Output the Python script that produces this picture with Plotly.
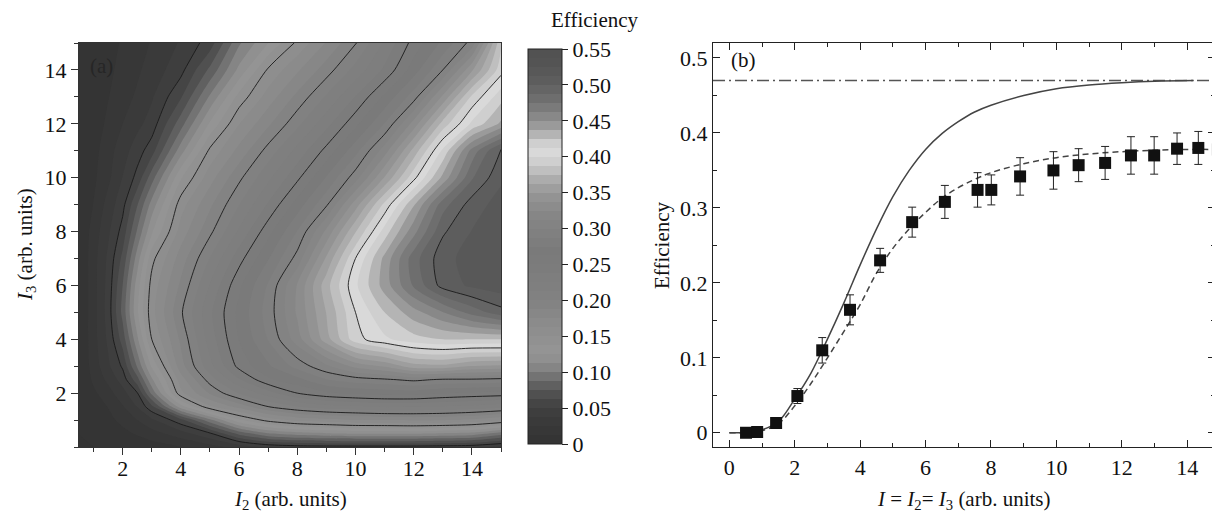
import plotly.graph_objects as go

# ---------------- Panel (a): efficiency map ----------------
i2_vals = [0.5, 1, 1.5, 2, 2.5, 3, 4, 5, 6, 7, 8, 9, 10, 11, 12, 13, 14, 15]
i3_vals = [0, 0.5, 1, 1.5, 2, 2.5, 3, 4, 5, 6, 7, 8, 9, 10, 11, 12, 13, 14, 15]
eff_map = [
    [0, 0, 0.001, 0.002, 0.004, 0.006, 0.012, 0.02, 0.03, 0.04, 0.044, 0.045, 0.045, 0.045, 0.045, 0.044, 0.042, 0.035],
    [0, 0.002, 0.005, 0.009, 0.014, 0.02, 0.032, 0.048, 0.079, 0.099, 0.107, 0.111, 0.114, 0.114, 0.114, 0.111, 0.108, 0.094],
    [0, 0.004, 0.009, 0.016, 0.025, 0.035, 0.058, 0.096, 0.135, 0.155, 0.166, 0.17, 0.174, 0.175, 0.177, 0.176, 0.172, 0.163],
    [0, 0.006, 0.013, 0.024, 0.038, 0.059, 0.12, 0.16, 0.18, 0.2, 0.212, 0.22, 0.223, 0.227, 0.226, 0.224, 0.221, 0.217],
    [0, 0.01, 0.02, 0.033, 0.049, 0.091, 0.159, 0.189, 0.213, 0.232, 0.25, 0.26, 0.265, 0.267, 0.268, 0.263, 0.26, 0.258],
    [0, 0.015, 0.028, 0.043, 0.07, 0.11, 0.169, 0.206, 0.236, 0.26, 0.271, 0.287, 0.294, 0.298, 0.303, 0.298, 0.298, 0.296],
    [0, 0.018, 0.035, 0.052, 0.089, 0.127, 0.182, 0.221, 0.254, 0.273, 0.292, 0.31, 0.329, 0.339, 0.357, 0.359, 0.349, 0.347],
    [0, 0.02, 0.04, 0.068, 0.11, 0.15, 0.19, 0.231, 0.263, 0.288, 0.319, 0.357, 0.395, 0.41, 0.42, 0.425, 0.425, 0.425],
    [0, 0.02, 0.043, 0.079, 0.123, 0.158, 0.198, 0.235, 0.266, 0.293, 0.327, 0.363, 0.4, 0.425, 0.445, 0.462, 0.48, 0.495],
    [0, 0.02, 0.042, 0.075, 0.119, 0.155, 0.19, 0.226, 0.26, 0.289, 0.326, 0.37, 0.41, 0.443, 0.477, 0.505, 0.515, 0.52],
    [0, 0.02, 0.04, 0.066, 0.106, 0.146, 0.181, 0.213, 0.245, 0.274, 0.305, 0.352, 0.4, 0.441, 0.482, 0.508, 0.518, 0.522],
    [0, 0.018, 0.035, 0.055, 0.089, 0.123, 0.168, 0.197, 0.227, 0.258, 0.288, 0.328, 0.374, 0.418, 0.458, 0.498, 0.513, 0.52],
    [0, 0.013, 0.03, 0.046, 0.074, 0.105, 0.157, 0.185, 0.212, 0.239, 0.268, 0.298, 0.344, 0.391, 0.436, 0.482, 0.506, 0.518],
    [0, 0.01, 0.022, 0.038, 0.054, 0.082, 0.136, 0.17, 0.197, 0.222, 0.247, 0.276, 0.307, 0.351, 0.396, 0.441, 0.486, 0.51],
    [0, 0.008, 0.02, 0.032, 0.044, 0.057, 0.107, 0.153, 0.179, 0.205, 0.229, 0.254, 0.283, 0.319, 0.367, 0.415, 0.467, 0.503],
    [0, 0.006, 0.015, 0.025, 0.034, 0.043, 0.082, 0.127, 0.162, 0.185, 0.209, 0.233, 0.259, 0.288, 0.33, 0.38, 0.415, 0.44],
    [0, 0.004, 0.012, 0.02, 0.027, 0.036, 0.061, 0.102, 0.142, 0.168, 0.191, 0.214, 0.238, 0.265, 0.294, 0.34, 0.39, 0.42],
    [0, 0.003, 0.01, 0.016, 0.023, 0.03, 0.046, 0.078, 0.116, 0.152, 0.173, 0.194, 0.217, 0.24, 0.269, 0.3, 0.348, 0.395],
    [0, 0.001, 0.008, 0.014, 0.02, 0.026, 0.039, 0.056, 0.098, 0.125, 0.153, 0.176, 0.199, 0.227, 0.255, 0.278, 0.305, 0.385],
]
cbar_tickvals = [0, 0.05, 0.10, 0.15, 0.20, 0.25, 0.30, 0.35, 0.40, 0.45, 0.50, 0.55]
cbar_ticktext = ["0", "0.05", "0.10", "0.15", "0.20", "0.25", "0.30", "0.35", "0.40", "0.45", "0.50", "0.55"]

# gray colormap (value -> gray level)
cmap_vals = [0.0, 0.025, 0.05, 0.0625, 0.075, 0.0875, 0.1, 0.1125, 0.125, 0.1375, 0.15, 0.175,
             0.2, 0.25, 0.275, 0.3, 0.325, 0.34, 0.35, 0.3625, 0.375, 0.3875, 0.4, 0.4125,
             0.425, 0.4375, 0.45, 0.4625, 0.475, 0.4875, 0.5, 0.5125, 0.525, 0.55]
cmap_gray = [0x33, 0x38, 0x40, 0x48, 0x55, 0x66, 0x7a, 0x8a, 0x92, 0x95, 0x90, 0x8a,
             0x82, 0x7c, 0x7a, 0x80, 0x86, 0x8c, 0x92, 0x9c, 0xa8, 0xbc, 0xcc, 0xda,
             0xd6, 0xbc, 0xa0, 0x8e, 0x7e, 0x72, 0x68, 0x60, 0x5a, 0x52]

# ---------------- Panel (b): diagonal I2 = I3 ----------------
meas_I = [0.51, 0.85, 1.43, 2.08, 2.84, 3.69, 4.61, 5.59, 6.59, 7.59, 8.01, 8.89, 9.91,
          10.68, 11.49, 12.28, 12.99, 13.69, 14.34, 14.94]
meas_eff = [0.0, 0.001, 0.013, 0.049, 0.11, 0.164, 0.23, 0.281, 0.308, 0.324, 0.324, 0.342,
            0.35, 0.357, 0.36, 0.37, 0.37, 0.379, 0.38, 0.378]
meas_err = [0, 0, 0, 0.01, 0.017, 0.02, 0.016, 0.02, 0.022, 0.023, 0.02, 0.025, 0.025,
            0.022, 0.022, 0.025, 0.025, 0.021, 0.022, 0.022]

theory_I = [0, 0.5, 1.0, 1.5, 2.0, 2.5, 3.0, 3.5, 4.0, 4.5, 5.0, 5.5, 6.0, 6.5, 7.0, 7.5,
            8.0, 9.0, 10.0, 11.0, 12.0, 13.0, 14.2]
theory_eff = [0, 0.0005, 0.004, 0.015, 0.045, 0.08, 0.125, 0.173, 0.224, 0.272, 0.315, 0.35,
              0.378, 0.399, 0.415, 0.428, 0.437, 0.45, 0.459, 0.464, 0.467, 0.469, 0.47]

fit_I = [0, 0.5, 1, 1.5, 2, 2.5, 3, 3.5, 4, 4.5, 5, 5.5, 6, 6.5, 7, 7.5, 8, 9, 10, 11, 12,
         13, 14, 15]
fit_eff = [0, 0.0003, 0.003, 0.012, 0.036, 0.066, 0.1, 0.135, 0.171, 0.213, 0.246, 0.272,
           0.294, 0.313, 0.327, 0.338, 0.347, 0.359, 0.367, 0.372, 0.375, 0.377, 0.378, 0.378]

limit_I = [-0.5, 15]
limit_eff = [0.47, 0.47]

b_xtick = [0, 2, 4, 6, 8, 10, 12, 14]
b_ytick = [0, 0.1, 0.2, 0.3, 0.4, 0.5]
b_yticktext = ["0", "0.1", "0.2", "0.3", "0.4", "0.5"]

# ---------------- figure ----------------
OFF = 8  # page body margin
W, H = 1220 - OFF, 519 - OFF


def px(x):
    return (x - OFF) / W


def py(y):
    return 1 - (y - OFF) / H


FONT = "Liberation Serif"
zmax = 0.55
colorscale = [[v / zmax, "rgb(%d,%d,%d)" % (g, g, g)] for v, g in zip(cmap_vals, cmap_gray)]

fig = go.Figure()

fig.add_trace(go.Contour(
    x=i2_vals, y=i3_vals, z=eff_map, zmin=0, zmax=zmax, colorscale=colorscale,
    autocontour=False,
    contours=dict(start=0, end=0.5375, size=0.0125, coloring="fill", showlines=False),
    line=dict(width=0, smoothing=0.7),
    colorbar=dict(
        x=px(528), xanchor="left", y=py(246.5), yanchor="middle",
        len=395 / H, lenmode="fraction", thickness=34, thicknessmode="pixels",
        outlinewidth=1, outlinecolor="#222", xpad=0, ypad=0,
        tickmode="array", tickvals=cbar_tickvals, ticktext=cbar_ticktext,
        ticks="outside", ticklen=6, tickwidth=1, tickcolor="#222",
        tickfont=dict(family=FONT, size=22, color="#111"),
    ),
    hoverinfo="skip",
))

for (s, e, d) in [(0.05, 0.05, 0.1), (0.15, 0.3, 0.05), (0.4, 0.5, 0.1)]:
    fig.add_trace(go.Contour(
        x=i2_vals, y=i3_vals, z=eff_map, showscale=False, autocontour=False,
        contours=dict(start=s, end=e, size=d, coloring="none"),
        line=dict(color="#1a1a1a", width=0.9, smoothing=0.7),
        hoverinfo="skip",
    ))

fig.add_trace(go.Scatter(
    x=limit_I, y=limit_eff, mode="lines", xaxis="x2", yaxis="y2",
    line=dict(color="#555", width=1.5, dash="12px,4px,2px,4px"), showlegend=False))
fig.add_trace(go.Scatter(
    x=theory_I, y=theory_eff, mode="lines", xaxis="x2", yaxis="y2",
    line=dict(color="#444", width=1.5, shape="spline"), showlegend=False))
fig.add_trace(go.Scatter(
    x=fit_I, y=fit_eff, mode="lines", xaxis="x2", yaxis="y2",
    line=dict(color="#444", width=1.5, dash="6px,4px", shape="spline"), showlegend=False))
fig.add_trace(go.Scatter(
    x=meas_I, y=meas_eff, mode="markers", xaxis="x2", yaxis="y2",
    marker=dict(symbol="square", size=12, color="#111"),
    error_y=dict(type="data", array=meas_err, visible=True, color="#222", thickness=1, width=4),
    showlegend=False))

tickfont = dict(family=FONT, size=22, color="#111")
ya_dom = [py(447), py(43)]

fig.update_layout(
    width=W, height=H, margin=dict(l=0, r=0, t=0, b=0),
    paper_bgcolor="white", plot_bgcolor="white", showlegend=False,
    font=dict(family=FONT, size=22, color="#111"),
    xaxis=dict(domain=[px(79), px(501)], range=[0.5, 15], anchor="y",
               tickmode="array", tickvals=[2, 4, 6, 8, 10, 12, 14],
               ticks="outside", ticklen=7, tickwidth=1, tickcolor="#333",
               minor=dict(tickmode="linear", tick0=0, dtick=1, ticks="outside", ticklen=4, tickcolor="#333"),
               showline=True, linecolor="#333", linewidth=1, mirror=True,
               ticklabelstandoff=-5,
               showgrid=False, zeroline=False, tickfont=tickfont),
    yaxis=dict(domain=ya_dom, range=[0, 15], anchor="x",
               tickmode="array", tickvals=[2, 4, 6, 8, 10, 12, 14],
               ticks="outside", ticklen=7, tickwidth=1, tickcolor="#333",
               minor=dict(tickmode="linear", tick0=0, dtick=1, ticks="outside", ticklen=4, tickcolor="#333"),
               showline=True, linecolor="#333", linewidth=1, mirror=True,
               showgrid=False, zeroline=False, tickfont=tickfont),
    xaxis2=dict(domain=[px(713), px(1215)], range=[-0.5, 14.85], anchor="y2",
                tickmode="array", tickvals=b_xtick,
                ticks="inside", ticklen=7, tickwidth=1, tickcolor="#222",
                minor=dict(tickmode="linear", tick0=0, dtick=1, ticks="inside", ticklen=4, tickcolor="#222"),
                showline=True, linecolor="#222", linewidth=1.2, mirror="ticks",
                showgrid=False, zeroline=False, tickfont=tickfont),
    yaxis2=dict(domain=ya_dom, range=[-0.019, 0.52], anchor="x2",
                tickmode="array", tickvals=b_ytick, ticktext=b_yticktext,
                ticks="inside", ticklen=7, tickwidth=1, tickcolor="#222",
                minor=dict(tickmode="linear", tick0=0, dtick=0.05, ticks="inside", ticklen=4, tickcolor="#222"),
                showline=True, linecolor="#222", linewidth=1.2, mirror="ticks",
                showgrid=False, zeroline=False, tickfont=tickfont),
)

tfont = dict(family=FONT, size=21, color="#111")
ann = [
    dict(text="(a)", x=0.8, y=14.15, xref="x", yref="y", xanchor="left", yanchor="middle",
         showarrow=False, font=dict(family=FONT, size=21, color="#262626")),
    dict(text="(b)", x=0.0, y=0.497, xref="x2", yref="y2", xanchor="left", yanchor="middle",
         showarrow=False, font=tfont),
    dict(text="Efficiency", x=px(595), y=py(20), xref="paper", yref="paper",
         xanchor="center", yanchor="middle", showarrow=False, font=tfont),
    dict(text="<i>I</i><sub>2</sub> (arb. units)", x=px(290), y=py(500), xref="paper", yref="paper",
         xanchor="center", yanchor="middle", showarrow=False, font=tfont),
    dict(text="<i>I</i><sub>3</sub> (arb. units)", x=px(26), y=py(245), xref="paper", yref="paper",
         xanchor="center", yanchor="middle", textangle=-90, showarrow=False, font=tfont),
    dict(text="<i>I</i> = <i>I</i><sub>2</sub>= <i>I</i><sub>3</sub> (arb. units)", x=px(964), y=py(500),
         xref="paper", yref="paper", xanchor="center", yanchor="middle", showarrow=False, font=tfont),
    dict(text="Efficiency", x=px(662), y=py(245), xref="paper", yref="paper",
         xanchor="center", yanchor="middle", textangle=-90, showarrow=False, font=tfont),
]
fig.update_layout(annotations=ann)

fig.write_html("out.html")
